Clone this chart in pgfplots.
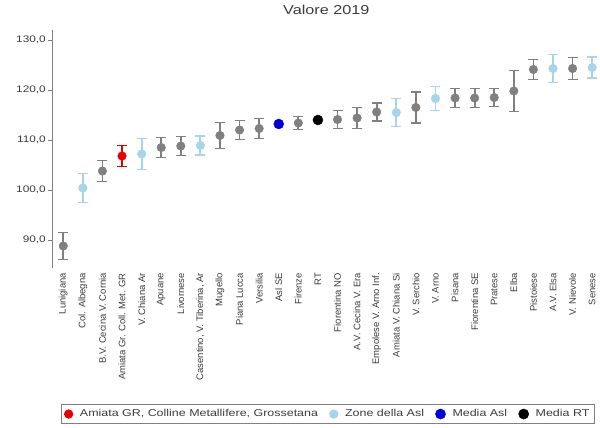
\documentclass[border=0pt]{standalone}
\usepackage{fontspec}
\setmainfont{Liberation Sans}
\newfontfamily\wide[FakeStretch=1.25]{Liberation Sans}
\usepackage{pgfplots}
\pgfplotsset{compat=1.18}
\usepackage{pgfplotstable}
\definecolor{cgray}{RGB}{128,128,128}
\definecolor{clb}{RGB}{166,212,232}
\definecolor{cred}{RGB}{230,0,0}
\definecolor{cblue}{RGB}{0,0,220}
\definecolor{ctxt}{RGB}{60,60,60}

\pgfplotstableread{
x y e
3 106.8 2.1
}\redtab
\pgfplotstableread{
x y e
1 100.4 2.9
4 107.2 3.1
7 108.9 1.9
17 115.5 2.8
19 118.3 2.4
25 124.3 2.8
27 124.5 2.1
}\lbtab
\pgfplotstableread{
x y
11 113.2
}\bluetab
\pgfplotstableread{
x y
13 114.0
}\blacktab
\pgfplotstableread{
x y e
0 88.8 2.7
2 103.8 2.1
5 108.5 2.0
6 108.8 1.9
8 110.9 2.6
9 112.0 1.9
10 112.3 2.0
12 113.4 1.3
14 114.1 1.8
15 114.4 2.1
16 115.6 1.8
18 116.5 3.1
20 118.4 1.9
21 118.4 1.9
22 118.5 1.8
23 119.8 4.1
24 124.1 2.0
26 124.3 2.2
}\graytab

\pgfplotsset{
  dot/.style={
    only marks, mark=*, mark size=4.3bp, color=#1,
    mark options={draw=#1, fill=#1, solid},
  },
  ebar/.style={
    dot=#1,
    error bars/.cd, y dir=both, y explicit,
    error bar style={line width=1.8bp, color=#1},
    error mark options={rotate=90, mark size=5bp, line width=1.8bp, color=#1},
    /pgfplots/.cd,
  },
}

\begin{document}
\begin{tikzpicture}
\useasboundingbox (0,0) rectangle (600bp,428bp);
\begin{axis}[
  at={(52.5bp,160.5bp)}, anchor=south west,
  width=547.5bp, height=237.5bp, scale only axis,
  xmin=-0.55, xmax=27.4, ymin=84.5, ymax=132,
  axis y line*=left, axis x line*=bottom,
  x axis line style={draw=none},
  y axis line style={draw=cgray, line width=0.8bp},
  xtick={0,...,27},
  xticklabels={Lunigiana, Col. Albegna, B.V. Cecina V. Cornia, Amiata Gr. Coll. Met. GR, V. Chiana Ar, Apuane, Livornese, {Casentino, V. Tiberina, Ar}, Mugello, Piana Lucca, Versilia, Asl SE, Firenze, RT, Fiorentina NO, A.V. Cecina V. Era, Empolese V. Arno Inf., Amiata V. Chiana Si, V. Serchio, V. Arno, Pisana, Fiorentina SE, Pratese, Elba, Pistoiese, A.V. Elsa, V. Nievole, Senese},
  xtick style={draw=none},
  xticklabel style={rotate=90, anchor=east, font=\fontsize{9.5}{11}\selectfont, text=ctxt, inner sep=1.5bp},
  ytick={90,100,110,120,130},
  ytick style={draw=cgray, line width=0.8bp},
  tick align=outside, major tick length=4bp,
  yticklabel style={font=\wide\fontsize{9.5}{11}\selectfont, text=ctxt, inner sep=2.5bp},
  /pgf/number format/.cd, fixed, fixed zerofill, precision=1, use comma, assume math mode=true,
  /pgfplots/.cd,
  title={Valore 2019},
  title style={font=\wide\fontsize{13}{15}\selectfont, text=ctxt, at={(0.5,1)}, anchor=south, yshift=6bp},
  legend columns=4,
  legend style={at={(0.503,-0.617)}, anchor=center, draw=cgray, line width=0.6bp,
    font=\wide\fontsize{10}{12}\selectfont, text=ctxt, inner xsep=3bp, inner ysep=3bp,
    /tikz/every odd column/.append style={column sep=5bp},
    /tikz/every even column/.append style={column sep=9.5bp}},
  legend cell align=left,
  clip=false,
]
\addplot[ebar=cred] table[x=x,y=y,y error=e]{\redtab};
\addlegendentry{Amiata GR, Colline Metallifere, Grossetana}
\addplot[ebar=clb] table[x=x,y=y,y error=e]{\lbtab};
\addlegendentry{Zone della Asl}
\addplot[dot=cblue, mark size=5bp] table[x=x,y=y]{\bluetab};
\addlegendentry{Media Asl}
\addplot[dot=black, mark size=5bp] table[x=x,y=y]{\blacktab};
\addlegendentry{Media RT}
\addplot[forget plot, ebar=cgray] table[x=x,y=y,y error=e]{\graytab};
\end{axis}
\end{tikzpicture}
\end{document}
